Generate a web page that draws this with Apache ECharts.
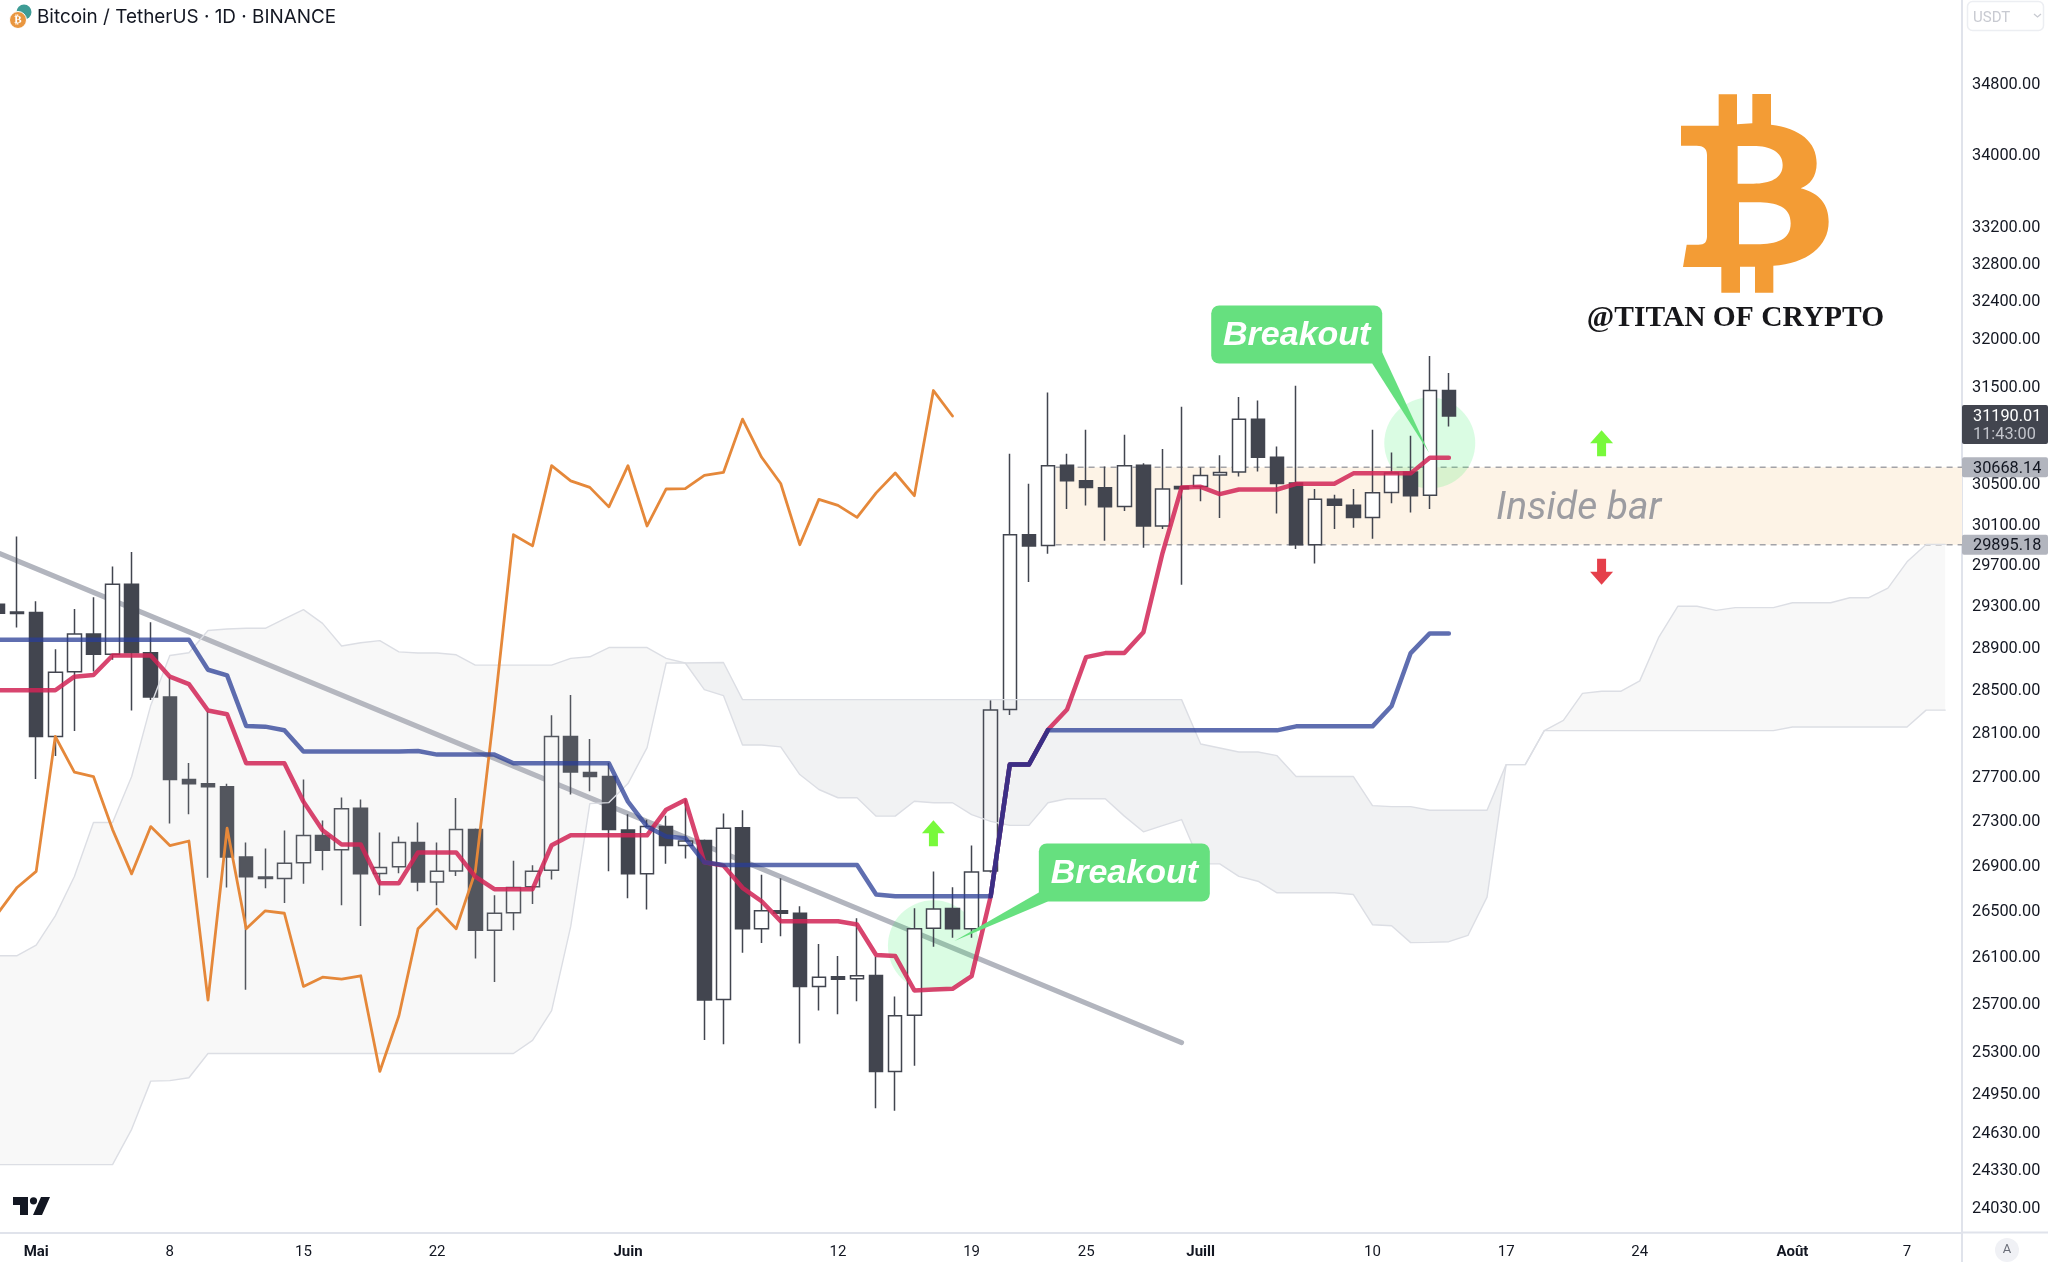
<!DOCTYPE html>
<html>
<head>
<meta charset="utf-8">
<title>Bitcoin / TetherUS</title>
<script src="https://cdn.jsdelivr.net/npm/echarts@6/dist/echarts.min.js"></script>
<style>
  html, body { margin: 0; padding: 0; background: #fff; }
  #chart { width: 2048px; height: 1262px; }
</style>
</head>
<body>
<div id="chart"></div>
<script>
// x values are days counted from 1 May, so the ticks can sit on real dates
var firstDay = -2;

var opens = [29314,29240,29234,28064,28669,29028,28836,29507,28849,28431,27669,27630,27604,26971,26794,26780,26920,27163,27035,27409,26825,26885,27101,26750,26847,27216,26329,26480,26709,26853,28064,27733,27696,27212,26822,27243,27073,27118,25733,27232,26341,26497,26476,25845,25928,25910,25938,25131,25601,26346,26517,26341,26848,28314,29993,29886,30688,30531,30461,30273,30688,30080,30475,30475,30589,30619,31158,30769,30508,29895,30345,30285,30165,30413,30619,30386,31453];
var closes = [29227,29225,28064,28665,29028,28836,29507,28849,28431,27669,27630,27604,26971,26797,26780,26916,27163,27032,27403,26822,26878,27101,26750,26844,27216,26329,26477,26702,26844,28064,27737,27696,27216,26822,27243,27073,27114,25729,27228,26341,26497,26476,25845,25924,25907,25936,25131,25596,26341,26514,26341,26839,28311,29993,29883,30684,30531,30465,30270,30684,30080,30449,30452,30585,30615,31158,30769,30504,29895,30345,30285,30165,30410,30610,30382,31453,31190];
var lows = [29210,29091,27673,27885,28114,28672,28783,28306,28404,27270,27354,26787,26702,25816,26696,26565,26734,26853,26546,26366,26634,26828,26668,26546,26803,26085,25883,26329,26556,26772,27533,27561,26844,26608,26508,26911,26957,25393,25357,26134,26217,26275,25363,25640,25610,25720,24829,24807,25178,26186,26263,26263,26833,28263,29530,29807,30250,30284,29934,30230,29866,30050,29503,30325,30160,30575,30625,30204,29852,29710,30050,30062,29954,30305,30215,30250,31082];
var highs = [29340,29975,29344,28883,29269,29382,29681,29822,29141,28623,27821,28296,27630,27100,27047,27207,27669,27297,27506,27488,27189,27154,27280,27100,27500,27225,26634,26939,26898,28260,28450,28041,27823,27354,27305,27341,27488,27127,27361,27390,26813,26783,26537,26208,26105,26433,26100,25760,26520,26842,26704,27074,28400,30805,30501,31433,30805,31048,30675,30998,30708,30852,31285,30665,30790,31385,31351,30879,31502,30450,30391,30449,31048,30818,30988,31812,31635];

var tenkan = [28495,28495,28495,28495,28623,28638,28823,28823,28823,28623,28552,28305,28270,27818,27818,27818,27468,27210,27082,27082,26740,26740,27012,27012,27012,26798,26687,26687,26687,27076,27165,27165,27165,27165,27165,27395,27482,26924,26895,26699,26581,26407,26407,26407,26407,26378,26114,26105,25811,25819,25825,25933,26625,27805,27805,28127,28315,28808,28846,28846,29044,29813,30464,30471,30398,30444,30444,30444,30501,30501,30501,30606,30606,30606,30606,30765,30765];
var kijun = [28974,28974,28974,28974,28974,28974,28974,28974,28974,28974,28974,28688,28635,28161,28155,28121,27926,27926,27926,27926,27926,27926,27930,27897,27897,27897,27897,27818,27818,27818,27818,27818,27818,27468,27243,27154,27139,26924,26901,26901,26901,26901,26901,26901,26901,26901,26640,26625,26625,26625,26625,26625,26625,27805,27805,28121,28121,28121,28121,28121,28121,28121,28121,28121,28121,28121,28121,28121,28158,28158,28158,28158,28158,28347,28846,29034,29034];
// tenkan and kijun run together here and read as one darker stroke
var overlapDays = [50, 51, 52, 53];
var overlapValues = [26625, 27805, 27805, 28124];

var chikou = [26477,26702,26844,28064,27737,27696,27216,26822,27243,27073,27114,25729,27228,26341,26497,26476,25845,25924,25907,25936,25131,25596,26341,26514,26341,26839,28311,29993,29883,30684,30531,30465,30270,30684,30080,30449,30452,30585,30615,31158,30769,30504,29895,30345,30285,30165,30410,30610,30382,31453,31190];

var spanA = [26108,26108,26199,26453,26798,27280,27280,27696,28353,28823,28849,29062,29076,29083,29083,29172,29262,29130,28914,28945,28965,28858,28847,28847,28830,28732,28732,28732,28732,28732,28796,28811,28899,28899,28899,28796,28752,28501,28445,27986,27986,27968,27714,27578,27503,27503,27337,27337,27472,27458,27458,27350,27290,27254,27254,27458,27494,27494,27494,27337,27196,27252,27306,26910,26910,26800,26757,26655,26655,26655,26655,26640,26376,26367,26221,26223,26229,26283,26617,27805,27805,28118,28213,28466,28485,28485,28583,28999,29295,29295,29255,29281,29281,29281,29329,29329,29329,29377,29377,29471,29727,29898,29898];
var spanB = [24371,24371,24371,24371,24371,24371,24371,24656,25051,25055,25079,25280,25280,25280,25280,25280,25280,25280,25280,25280,25280,25280,25280,25280,25280,25280,25280,25280,25390,25640,26361,27450,27459,27632,27961,28752,28752,28755,28757,28407,28407,28407,28407,28407,28407,28407,28407,28407,28407,28407,28407,28407,28407,28407,28407,28407,28407,28407,28407,28407,28407,28407,28407,27995,27958,27921,27921,27887,27696,27696,27696,27696,27432,27423,27423,27390,27390,27390,27390,27805,27805,28118,28118,28118,28118,28118,28118,28118,28118,28118,28118,28118,28118,28118,28152,28152,28152,28152,28152,28152,28152,28309,28309];
var cloudRanges = [
  { from: -2, to: 34, fill: 'rgba(200,200,203,0.128)' },
  { from: 34, to: 77, fill: 'rgba(120,123,134,0.1)' },
  { from: 77, to: 100, fill: 'rgba(200,200,203,0.128)' }
];

var trendDays = [-1.9, 60];
var trendPrices = [29807, 25371];

var zoneTop = 30668.14;
var zoneBottom = 29895.18;
var zoneStartDay = 53.4;
var zoneLabel = ['Inside bar', 80.8, 30245];

var highlightCircles = [[47, 26194], [73, 30913]];
var upArrows = [[47, 27183], [82, 30911]];
var downArrows = [[82, 29630]];
// box centre day, box centre price, tip day, tip price
var breakouts = [[57, 26834, 48.1, 26234], [66.03, 32039, 72.96, 30815]];

var priceTicks = [34800,34000,33200,32800,32400,32000,31500,30500,30100,29700,29300,28900,28500,28100,27700,27300,26900,26500,26100,25700,25300,24950,24630,24330,24030];
var dateTickDays = [0,7,14,21,31,42,49,55,61,70,77,84,92,98];
var dateTickLabels = ['Mai','8','15','22','Juin','12','19','25','Juill','10','17','24','Août','7'];
var monthLabels = ['Mai','Juin','Juill','Août'];

var lastPrice = 31190.01;
var lastCountdown = '11:43:00';
var levelTags = [30668.14, 29895.18];

var xMin = -1.896, xMax = 100.88;
var yMin = 23832, yMax = 35773;
var fontName = 'Roboto, sans-serif';
var ink = '#42454f';

var bitcoinPath = 'M476 43L531 43L531 133L577 130L577 42L633 42L633 134C720 145 770 185 770 250C770 290 750 315 722 325C780 340 806 375 806 425C806 500 740 550 640 557L640 638L585 638L585 560L540 560L540 638L484 638L484 561L369 561L380 494L415 494C435 494 440 485 441 470L441 225C441 205 430 197 410 197L363 197L363 137L476 137Z M533 198L533 311L580 311C630 311 668 295 668 255C668 215 630 198 580 198Z M537 367L537 493L590 493C650 493 692 480 692 430C692 380 650 367 590 367Z';
var tvMarkPath = 'M13 1197H28V1215H20V1205H13ZM41 1197H50L42 1215H33Z';

function withDays(values) {
  return values.map(function (v, i) { return [firstDay + i, v]; });
}

var candles = opens.map(function (o, i) {
  return [firstDay + i, o, closes[i], lows[i], highs[i]];
});

function renderCloud(params, api) {
  var range = cloudRanges[params.dataIndex];
  var top = [], bottom = [];
  for (var d = range.from; d <= range.to; d++) {
    top.push(api.coord([d, spanA[d - firstDay]]));
    bottom.push(api.coord([d, spanB[d - firstDay]]));
  }
  return {
    type: 'polygon',
    shape: { points: top.concat(bottom.reverse()) },
    style: { fill: range.fill }
  };
}

function renderZone(params, api) {
  var a = api.coord([zoneStartDay, zoneTop]);
  var b = api.coord([xMax, zoneBottom]);
  var dash = { stroke: '#a3a3a8', lineWidth: 1.5, lineDash: [6, 5] };
  return {
    type: 'group',
    children: [
      { type: 'rect', shape: { x: a[0], y: a[1], width: b[0] - a[0], height: b[1] - a[1] }, style: { fill: '#fdf3e6' } },
      { type: 'line', shape: { x1: a[0], y1: a[1], x2: b[0], y2: a[1] }, style: dash },
      { type: 'line', shape: { x1: a[0], y1: b[1], x2: b[0], y2: b[1] }, style: dash }
    ]
  };
}

function renderZoneLabel(params, api) {
  var p = api.coord([zoneLabel[1], zoneLabel[2]]);
  return {
    type: 'text',
    style: {
      text: zoneLabel[0], x: p[0], y: p[1], fill: '#9c9ca1',
      font: 'italic 39px ' + fontName, textAlign: 'center', textVerticalAlign: 'middle'
    }
  };
}

function renderBreakout(params, api) {
  var c = api.coord([api.value(0), api.value(1)]);
  var tip = api.coord([api.value(2), api.value(3)]);
  var w = 171, h = 58;
  var left = c[0] - w / 2, right = c[0] + w / 2, bottom = c[1] + h / 2;
  var tail = tip[0] < c[0]
    ? [[left, bottom - 9], tip, [left + 9, bottom]]
    : [[right - 10, bottom], tip, [right, bottom - 11]];
  return {
    type: 'group',
    children: [
      { type: 'polygon', shape: { points: tail }, style: { fill: '#66e07f' } },
      { type: 'rect', shape: { x: left, y: c[1] - h / 2, width: w, height: h, r: 8 }, style: { fill: '#66e07f' } },
      { type: 'text', style: {
        text: 'Breakout', x: c[0], y: c[1] + 1.5, fill: '#fff',
        font: 'italic bold 34px "Liberation Sans", sans-serif', textAlign: 'center', textVerticalAlign: 'middle'
      } }
    ]
  };
}

function renderPriceTags(params, api) {
  var right = api.coord([xMax, lastPrice]);
  var children = [
    { type: 'rect', shape: { x: right[0], y: right[1] - 11, width: 86, height: 39, r: 2 }, style: { fill: ink } },
    { type: 'text', style: { text: lastPrice.toFixed(2), x: right[0] + 11, y: right[1] + 1, fill: '#fff', font: '16.3px ' + fontName, textVerticalAlign: 'middle' } },
    { type: 'text', style: { text: lastCountdown, x: right[0] + 11, y: right[1] + 18.5, fill: '#c3c5cc', font: '16.3px ' + fontName, textVerticalAlign: 'middle' } }
  ];
  levelTags.forEach(function (price) {
    var p = api.coord([xMax, price]);
    children.push({ type: 'rect', shape: { x: p[0], y: p[1] - 10, width: 86, height: 20, r: 2 }, style: { fill: '#b2b5be' } });
    children.push({ type: 'text', style: { text: price.toFixed(2), x: p[0] + 11, y: p[1] + 1.5, fill: '#131722', font: '16.3px ' + fontName, textVerticalAlign: 'middle' } });
  });
  return { type: 'group', children: children };
}

// logo marks, the paths are not available in the graphic component
function renderLogos() {
  return {
    type: 'group',
    children: [
      { type: 'path', x: 1560, y: 80, scaleX: 1 / 3, scaleY: 1 / 3, shape: { pathData: bitcoinPath }, style: { fill: '#f39c35' } },
      { type: 'path', shape: { pathData: tvMarkPath }, style: { fill: '#131722' } }
    ]
  };
}

function lineSeries(name, data, color, width, z) {
  return {
    name: name, type: 'line', data: data, z: z, symbol: 'none', silent: true,
    lineStyle: { color: color, width: width, cap: 'round', join: 'round' }
  };
}

var chart = echarts.init(document.getElementById('chart'));

chart.setOption({
  animation: false,
  backgroundColor: '#ffffff',
  title: {
    text: 'Bitcoin / TetherUS · 1D · BINANCE',
    left: 32, top: 3,
    textStyle: { color: '#131722', fontSize: 18.9, fontWeight: 400, fontFamily: 'Inter, sans-serif' }
  },
  grid: { left: 0, top: 0, right: 86, bottom: 29.5 },
  xAxis: {
    type: 'value', min: xMin, max: xMax,
    splitLine: { show: false },
    axisTick: { show: false },
    axisLine: { onZero: false, lineStyle: { color: '#e0e3eb', width: 2 } },
    axisLabel: {
      customValues: dateTickDays,
      margin: 12, fontSize: 15, fontFamily: fontName, color: '#131722',
      hideOverlap: false, showMinLabel: true, showMaxLabel: true,
      formatter: function (v) {
        var text = dateTickLabels[dateTickDays.indexOf(v)];
        return monthLabels.indexOf(text) >= 0 ? '{month|' + text + '}' : text;
      },
      rich: { month: { fontSize: 15, fontWeight: 'bold', fontFamily: fontName, color: '#131722' } }
    }
  },
  yAxis: {
    type: 'log', position: 'right', min: yMin, max: yMax,
    splitLine: { show: false },
    minorSplitLine: { show: false },
    axisTick: { show: false },
    axisLine: { show: true, onZero: false, lineStyle: { color: '#e0e3eb', width: 2 } },
    axisLabel: {
      customValues: priceTicks,
      margin: 10,
      formatter: function (v) { return '{price|' + Number(v).toFixed(2) + '}'; },
      rich: { price: { fontSize: 16.3, fontFamily: fontName, color: '#131722', padding: [3, 0, 0, 0] } }
    }
  },
  graphic: [
    // bottom strip and top right price unit box, both outside the plot
    { type: 'line', shape: { x1: 1962, y1: 1232.5, x2: 2048, y2: 1232.5 }, style: { stroke: '#e0e3eb', lineWidth: 2 } },
    { type: 'line', shape: { x1: 1962, y1: 1232.5, x2: 1962, y2: 1262 }, style: { stroke: '#e0e3eb', lineWidth: 2 } },
    { type: 'circle', shape: { cx: 2007, cy: 1250, r: 12 }, style: { fill: '#f0f1f5' } },
    { type: 'text', style: { text: 'A', x: 2007, y: 1250, fill: '#6a6d78', font: '13px ' + fontName, textAlign: 'center', textVerticalAlign: 'middle' } },
    { type: 'rect', shape: { x: 1967.5, y: 1.5, width: 76, height: 29, r: 5 }, style: { fill: '#fff', stroke: '#eceef2', lineWidth: 1.5 } },
    { type: 'text', style: { text: 'USDT', x: 1973, y: 18, fill: '#c8cad1', font: '15px ' + fontName, textVerticalAlign: 'middle' } },
    { type: 'polyline', shape: { points: [[2034, 14], [2037.5, 17], [2041, 14]] }, style: { stroke: '#c8cad1', lineWidth: 1.3, fill: 'none' } },
    // symbol icon beside the title
    { type: 'circle', shape: { cx: 24, cy: 12, r: 7.5 }, style: { fill: '#3e9c95' } },
    { type: 'circle', shape: { cx: 18, cy: 20, r: 8.5 }, style: { fill: '#e9963f', stroke: '#fff', lineWidth: 1 } },
    { type: 'text', style: { text: '₿', x: 18, y: 20.5, fill: '#fff', font: 'bold 11px "DejaVu Sans"', textAlign: 'center', textVerticalAlign: 'middle' } },
    { type: 'circle', shape: { cx: 33.5, cy: 1200.8, r: 3.6 }, style: { fill: '#131722' } },
    { type: 'text', style: { text: '@TITAN OF CRYPTO', x: 1735.5, y: 318, fill: '#17171a', font: 'bold 29.5px "Liberation Serif", serif', textAlign: 'center', textVerticalAlign: 'middle' } }
  ],
  series: [
    { type: 'custom', z: 1, silent: true, data: [[zoneStartDay, zoneTop]], encode: { x: 0, y: 1 }, renderItem: renderZone },
    {
      type: 'scatter', z: 2, silent: true, data: highlightCircles, symbolSize: 91,
      itemStyle: { color: 'rgba(50,240,100,0.18)', opacity: 1 }
    },
    lineSeries('trend', [[trendDays[0], trendPrices[0]], [trendDays[1], trendPrices[1]]], '#b2b5be', 5, 2),
    {
      name: 'BTCUSDT', type: 'candlestick', z: 3, silent: true, data: candles, barWidth: 14,
      itemStyle: { color: '#ffffff', color0: ink, borderColor: ink, borderColor0: ink, borderWidth: 1.5 }
    },
    { type: 'custom', z: 4, silent: true, data: cloudRanges.map(function (r) { return [r.from, spanA[r.from - firstDay]]; }), encode: { x: 0, y: 1 }, renderItem: renderCloud },
    lineSeries('spanA', withDays(spanA), '#dcdee4', 1.4, 4),
    lineSeries('spanB', withDays(spanB), '#dcdee4', 1.4, 4),
    lineSeries('chikou', withDays(chikou), '#e5883a', 2.8, 5),
    lineSeries('tenkan', withDays(tenkan), 'rgba(209,37,86,0.85)', 4.5, 6),
    lineSeries('kijun', withDays(kijun), 'rgba(41,62,150,0.75)', 4.5, 7),
    lineSeries('overlap', overlapDays.map(function (d, i) { return [d, overlapValues[i]]; }), '#3c2e85', 4.5, 8),
    { type: 'custom', z: 9, silent: true, data: [[zoneLabel[1], zoneLabel[2]]], encode: { x: 0, y: 1 }, renderItem: renderZoneLabel },
    {
      type: 'scatter', z: 9, silent: true, data: upArrows, symbol: 'path://M11.5 0L23 13H16V26H7V13H0Z', symbolSize: [23, 26],
      itemStyle: { color: '#78f93b', opacity: 1 }
    },
    {
      type: 'scatter', z: 9, silent: true, data: downArrows, symbol: 'path://M7 0H16V13H23L11.5 26L0 13H7Z', symbolSize: [23, 26],
      itemStyle: { color: '#e53f4a', opacity: 1 }
    },
    { type: 'custom', z: 10, silent: true, data: breakouts, encode: { x: [0, 2], y: [1, 3] }, renderItem: renderBreakout },
    { type: 'custom', z: 11, silent: true, data: [[xMax, lastPrice]], encode: { x: 0, y: 1 }, renderItem: renderPriceTags },
    { type: 'custom', z: 12, silent: true, coordinateSystem: 'none', data: [[0, 0]], renderItem: renderLogos }
  ]
});
</script>
</body>
</html>
